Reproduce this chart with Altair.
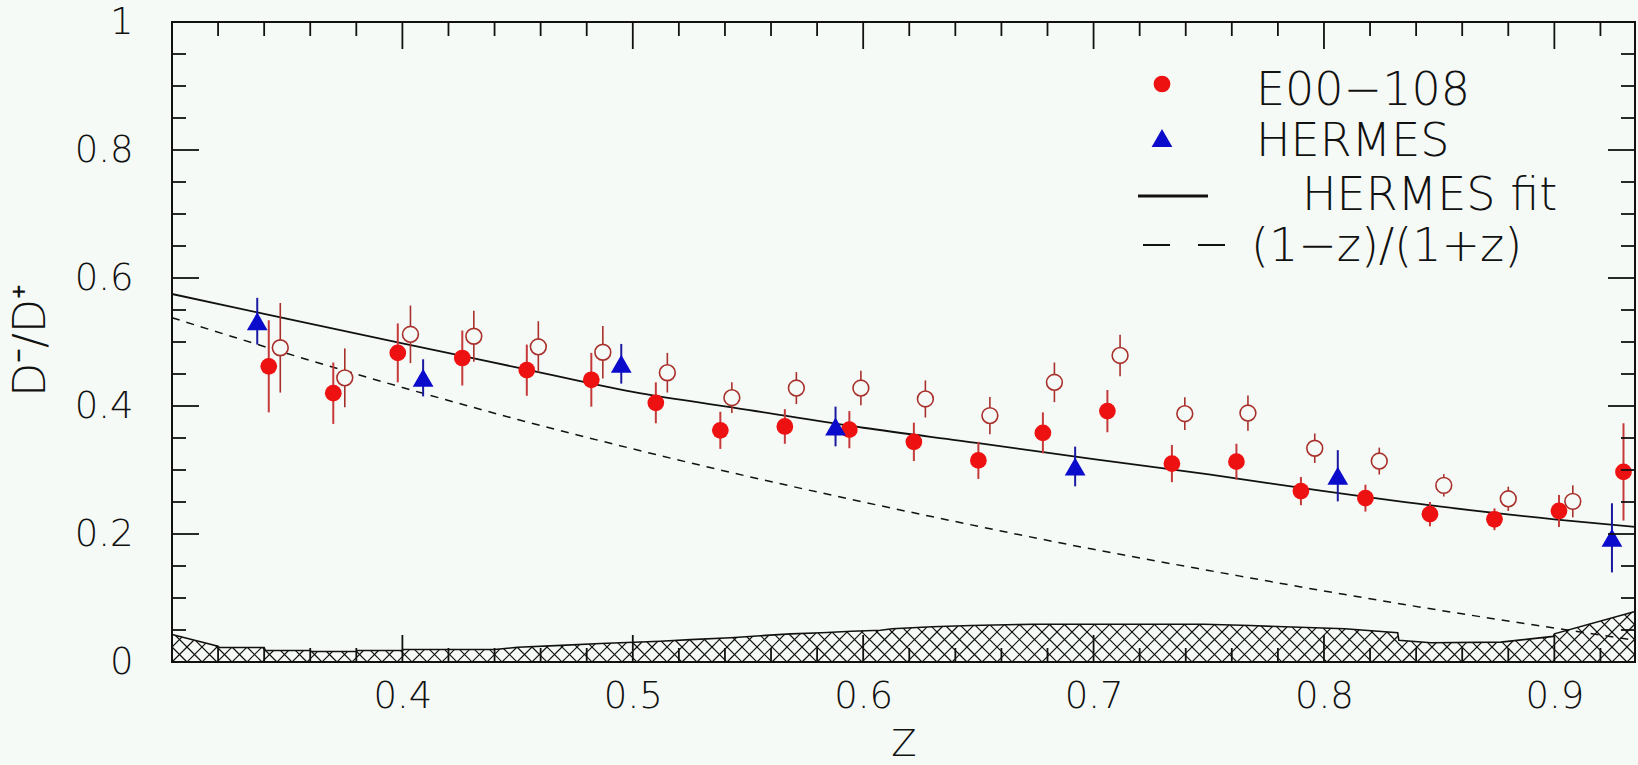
import altair as alt
import pandas as pd
import numpy as np

# ---------------- data ----------------
# E00-108 (filled red circles): z, D-/D+, error
e00_z = [0.342, 0.370, 0.398, 0.426, 0.454, 0.482, 0.510, 0.538, 0.566, 0.594, 0.622,
         0.650, 0.678, 0.706, 0.734, 0.762, 0.790, 0.818, 0.846, 0.874, 0.902, 0.930]
e00_r = [0.462, 0.420, 0.483, 0.475, 0.456, 0.441, 0.405, 0.362, 0.368, 0.363, 0.344,
         0.315, 0.358, 0.392, 0.310, 0.313, 0.267, 0.256, 0.231, 0.223, 0.236, 0.297]
e00_e = [0.072, 0.048, 0.046, 0.043, 0.040, 0.042, 0.032, 0.029, 0.027, 0.029, 0.030,
         0.029, 0.032, 0.033, 0.029, 0.028, 0.022, 0.021, 0.019, 0.017, 0.025, 0.076]
# open red circles
open_z = [0.347, 0.375, 0.4035, 0.431, 0.459, 0.487, 0.515, 0.543, 0.571, 0.599, 0.627,
          0.655, 0.683, 0.7115, 0.7396, 0.767, 0.796, 0.824, 0.852, 0.880, 0.908]
open_r = [0.491, 0.444, 0.512, 0.509, 0.4925, 0.484, 0.452, 0.413, 0.428, 0.428, 0.411,
          0.385, 0.437, 0.479, 0.388, 0.389, 0.334, 0.314, 0.276, 0.255, 0.251]
open_e = [0.070, 0.046, 0.045, 0.040, 0.040, 0.041, 0.031, 0.024, 0.025, 0.027, 0.029,
          0.029, 0.031, 0.0325, 0.0255, 0.0275, 0.023, 0.021, 0.0175, 0.019, 0.025]
# HERMES (blue triangles)
her_z = [0.337, 0.409, 0.495, 0.588, 0.692, 0.806, 0.925]
her_r = [0.5325, 0.444, 0.466, 0.368, 0.3055, 0.291, 0.194]
her_e = [0.0365, 0.029, 0.031, 0.031, 0.031, 0.040, 0.054]
# HERMES fit (solid curve)
fit_z = [0.300, 0.340, 0.400, 0.450, 0.500, 0.550, 0.600, 0.650, 0.700, 0.750, 0.800, 0.850, 0.900, 0.935]
fit_r = [0.575, 0.544, 0.498, 0.460, 0.422, 0.394, 0.366, 0.342, 0.317, 0.293, 0.267, 0.243, 0.223, 0.211]
# (1-z)/(1+z) (dashed curve)
dash_z = [0.300, 0.350, 0.400, 0.450, 0.500, 0.550, 0.600, 0.650, 0.700, 0.750, 0.800, 0.850, 0.900, 0.935]
dash_r = [0.538, 0.482, 0.429, 0.379, 0.333, 0.290, 0.250, 0.212, 0.176, 0.143, 0.111, 0.081, 0.053, 0.034]
# systematic-error band (hatched), upper edge
band_z = [0.300, 0.320, 0.3205, 0.340, 0.3405, 0.360, 0.3605, 0.380, 0.3805, 0.400, 0.4005, 0.440,
          0.450, 0.469, 0.486, 0.512, 0.525, 0.5425, 0.5555, 0.5685, 0.582, 0.595, 0.6075, 0.6126,
          0.630, 0.647, 0.674, 0.748, 0.768, 0.783, 0.809, 0.832, 0.8325, 0.8464, 0.8768, 0.8995,
          0.900, 0.935]
band_t = [0.043, 0.0247, 0.0227, 0.0227, 0.018, 0.018, 0.0164, 0.0164, 0.018, 0.018, 0.0195, 0.0195,
          0.023, 0.026, 0.029, 0.0325, 0.035, 0.038, 0.041, 0.044, 0.0456, 0.048, 0.0497, 0.052,
          0.055, 0.057, 0.059, 0.059, 0.057, 0.055, 0.052, 0.0456, 0.034, 0.030, 0.031, 0.040,
          0.044, 0.079]

x_major = [0.4, 0.5, 0.6, 0.7, 0.8, 0.9]
x_minor = [0.32, 0.34, 0.36, 0.38, 0.42, 0.44, 0.46, 0.48, 0.52, 0.54, 0.56, 0.58, 0.62, 0.64,
           0.66, 0.68, 0.72, 0.74, 0.76, 0.78, 0.82, 0.84, 0.86, 0.88, 0.92]
y_labels = [0.0, 0.2, 0.4, 0.6, 0.8, 1.0]
y_major = [0.2, 0.4, 0.6, 0.8]
y_minor = [0.05, 0.10, 0.15, 0.25, 0.30, 0.35, 0.45, 0.50, 0.55, 0.65, 0.70, 0.75, 0.85, 0.90, 0.95]

# ---------------- layout / style ----------------
W, H = 1463, 640
XMIN, XMAX = 0.30, 0.935
BG = "#f6faf6"
FONT = "DejaVu Sans"
FW = 200
RED = "#ee1111"
RED_BAR = "#c43a3a"
OPEN_COL = "#a8302c"
BLUE = "#0b0bcc"
BLUE_BAR = "#1a1aa0"

xs = alt.Scale(domain=[XMIN, XMAX], nice=False, zero=False)
ys = alt.Scale(domain=[0, 1], nice=False, zero=False)

x_axis = alt.Axis(values=x_major, format=".1f", ticks=False, domain=False, grid=False,
                  labelFont=FONT, labelFontSize=37, labelFontWeight=FW, labelColor="#111",
                  labelPadding=45, labelBaseline="alphabetic", labelFlush=False, labelOverlap=False,
                  title="Z", titleFont=FONT, titleFontSize=37, titleFontWeight=FW, titleColor="#111",
                  titleY=93, titleBaseline="alphabetic")
y_axis = alt.Axis(values=y_labels, format=".1~f", ticks=False, domain=False, grid=False,
                  labelFont=FONT, labelFontSize=37, labelFontWeight=FW, labelColor="#111",
                  labelPadding=39, labelAlign="right", labelBaseline="middle", labelFlush=False,
                  labelOverlap=False,
                  title="D⁻/D⁺", titleFont=FONT, titleFontSize=44, titleFontWeight=FW,
                  titleColor="#111", titleAngle=270, titleX=-128, titleY=318,
                  titleBaseline="alphabetic")

def X(field):
    return alt.X(field, scale=xs, axis=x_axis, title="Z")

def Y(field):
    return alt.Y(field, scale=ys, axis=y_axis, title="D⁻/D⁺")

def df_pts(z, r, e):
    return pd.DataFrame({"z": z, "r": r, "lo": np.array(r) - np.array(e), "hi": np.array(r) + np.array(e)})

e00 = df_pts(e00_z, e00_r, e00_e)
opn = df_pts(open_z, open_r, open_e)
her = df_pts(her_z, her_r, her_e)
fit = pd.DataFrame({"z": fit_z, "r": fit_r})
dsh = pd.DataFrame({"z": dash_z, "r": dash_r})
band = pd.DataFrame({"z": band_z, "t": band_t})

# crosshatch lines derived from the band edge
kx = W / (XMAX - XMIN)
ky = float(H)
zg = np.linspace(XMIN, XMAX, 8001)
Tp = np.interp(zg, band_z, band_t) * ky
Xp = (zg - XMIN) * kx
segs = []
step = 15.0
for sign in (1, -1):
    cs = np.arange(-60, W + 61, step)
    for c in cs:
        Yp = sign * (Xp - c)
        ok = (Yp >= 0) & (Yp <= Tp)
        idx = np.where(ok)[0]
        if len(idx) < 2:
            continue
        i1, i2 = idx[0], idx[-1]
        segs.append((zg[i1], Yp[i1] / ky, zg[i2], Yp[i2] / ky))
hatch = pd.DataFrame(segs, columns=["z1", "v1", "z2", "v2"])

# ---------------- layers ----------------
layers = []

# hatch
layers.append(alt.Chart(hatch).mark_rule(color="#111", strokeWidth=1.2).encode(
    x=X("z1:Q"), y=Y("v1:Q"), x2="z2:Q", y2="v2:Q"))
# band edge
layers.append(alt.Chart(band).mark_line(color="#111", strokeWidth=1.6, interpolate="linear").encode(
    x=X("z:Q"), y=Y("t:Q")))
# dashed (1-z)/(1+z)
layers.append(alt.Chart(dsh).mark_line(color="#111", strokeWidth=1.5, strokeDash=[8, 7],
                                       interpolate="monotone").encode(x=X("z:Q"), y=Y("r:Q")))
# HERMES fit
layers.append(alt.Chart(fit).mark_line(color="#111", strokeWidth=1.8, interpolate="monotone").encode(
    x=X("z:Q"), y=Y("r:Q")))

# error bars
def bars(df, col, sw):
    return alt.Chart(df).mark_rule(color=col, strokeWidth=sw).encode(
        x=X("z:Q"), y=Y("lo:Q"), y2="hi:Q")

layers.append(bars(opn, OPEN_COL, 1.6))
layers.append(bars(e00, RED_BAR, 2.0))
layers.append(bars(her, BLUE_BAR, 2.0))

# markers
layers.append(alt.Chart(opn).mark_point(shape="circle", size=250, filled=True, fill=BG, fillOpacity=1,
                                        stroke=OPEN_COL, strokeWidth=1.6, opacity=1).encode(
    x=X("z:Q"), y=Y("r:Q")))
layers.append(alt.Chart(e00).mark_point(shape="circle", size=280, filled=True, color=RED, opacity=1).encode(
    x=X("z:Q"), y=Y("r:Q")))
layers.append(alt.Chart(her).mark_point(shape="triangle-up", size=430, filled=True, color=BLUE, opacity=1).encode(
    x=X("z:Q"), y=Y("r:Q")))

# inward ticks on all four sides
MAJ, MIN = 27, 14
def xticks(vals, ydat, off):
    return alt.Chart(pd.DataFrame({"t": vals})).mark_rule(color="#111", strokeWidth=1.8, y2Offset=off).encode(
        x=X("t:Q"), y=alt.Y(datum=ydat, scale=ys, axis=y_axis, title="D⁻/D⁺"),
        y2=alt.Y2(datum=ydat))
def yticks(vals, xdat, off):
    return alt.Chart(pd.DataFrame({"t": vals})).mark_rule(color="#111", strokeWidth=1.8, x2Offset=off).encode(
        y=Y("t:Q"), x=alt.X(datum=xdat, scale=xs, axis=x_axis, title="Z"),
        x2=alt.X2(datum=xdat))

layers += [xticks(x_major, 0, -MAJ), xticks(x_minor, 0, -MIN),
           xticks(x_major, 1, MAJ), xticks(x_minor, 1, MIN),
           yticks(y_major, XMIN, MAJ), yticks(y_minor, XMIN, MIN),
           yticks(y_major, XMAX, -MAJ), yticks(y_minor, XMAX, -MIN)]

# legend (top right)
LFS = 46
one = pd.DataFrame({"a": [0]})
def ltext(s, x, y):
    return alt.Chart(pd.DataFrame({"label": [s]})).mark_text(
        font=FONT, fontSize=LFS, fontWeight=FW, color="#111", align="left", baseline="alphabetic").encode(
        x=alt.value(x), y=alt.value(y), text="label:N")

layers.append(alt.Chart(one).mark_point(shape="circle", size=280, filled=True, color=RED, opacity=1).encode(
    x=alt.value(990), y=alt.value(62)))
layers.append(alt.Chart(one).mark_point(shape="triangle-up", size=430, filled=True, color=BLUE, opacity=1).encode(
    x=alt.value(990), y=alt.value(116)))
layers.append(alt.Chart(one).mark_rule(color="#111", strokeWidth=3).encode(
    x=alt.value(966), x2=alt.value(1036), y=alt.value(174)))
layers.append(alt.Chart(one).mark_rule(color="#111", strokeWidth=2, strokeDash=[27, 28]).encode(
    x=alt.value(971), x2=alt.value(1053), y=alt.value(223)))
layers.append(ltext("E00−108", 1084, 83))
layers.append(ltext("HERMES", 1084, 134))
layers.append(ltext("HERMES fit", 1130, 188))
layers.append(ltext("(1−z)/(1+z)", 1079, 239))

chart = alt.layer(*layers).properties(
    width=W, height=H,
    background=BG,
    padding={"left": 172, "top": 22, "right": 3, "bottom": 103},
    autosize=alt.AutoSizeParams(type="none"),
).configure_view(stroke="#111", strokeWidth=2, fill=BG)

chart.save("out.html", embed_options={"renderer": "svg", "actions": False})
